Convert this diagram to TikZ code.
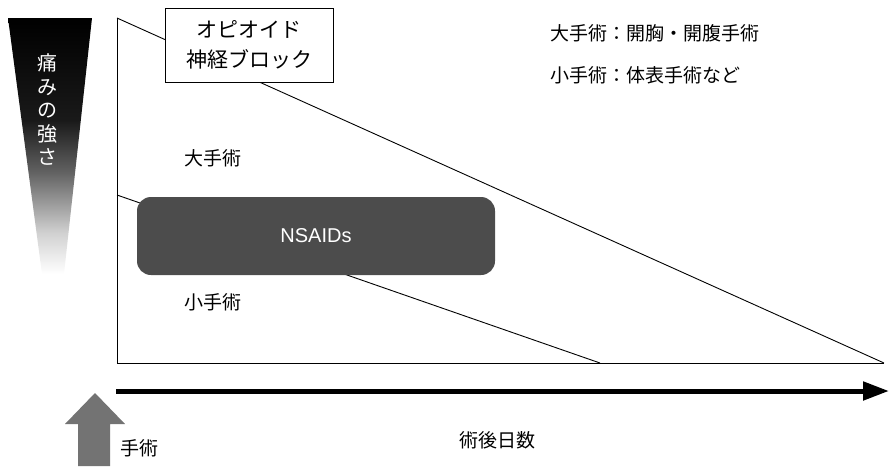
\documentclass[tikz,border=0pt]{standalone}
\usepackage{fontspec}
\setmainfont{Noto Sans CJK JP}
\newfontfamily\latinsans{Liberation Sans}
\usetikzlibrary{arrows.meta}
\pgfdeclareverticalshading{painshade}{100bp}{color(0bp)=(white); color(25bp)=(white); color(33bp)=(black!18); color(45bp)=(black!62); color(55bp)=(black!90); color(75bp)=(black); color(100bp)=(black)}
\begin{document}
\begin{tikzpicture}[x=1pt,y=-1pt,
  frame/.style={line width=0.9pt, black},
  jp/.style={font=\fontsize{19}{22}\selectfont, inner sep=0pt},
  boxjp/.style={font=\fontsize{21}{30}\selectfont, align=center}]
\useasboundingbox (0,0) rectangle (889,466);
% pain wedge
\shade[shading=painshade]
  (8,18) -- (92,18) -- (64,274) -- (42,274) -- cycle;
\node[font=\fontsize{20}{23.5}\selectfont, text=white, align=center, inner sep=0pt] (pain) at (47,110) {痛\\み\\の\\強\\さ};
% frame
\coordinate (tl) at (117,18);
\coordinate (ml) at (117,195);
\coordinate (bl) at (117,363);
\coordinate (br) at (884,363);
\coordinate (bm) at (600,363);
\draw[frame] (tl) -- (bl) -- (br);
\draw[frame] (tl) -- (br);
\draw[frame] (ml) -- (bm);
% opioid box
\node[draw, line width=1pt, fill=white, minimum width=168pt, minimum height=74pt, boxjp] (opioid) at (249,45) {オピオイド\\神経ブロック};
% NSAIDs
\node[fill=black!70, rounded corners=14pt, minimum width=358pt, minimum height=78pt, text=white, font=\latinsans\fontsize{20}{24}\selectfont] (nsaids) at (316,236) {NSAIDs};
% labels
\node[jp] (major) at (213,158) {大手術};
\node[jp] (minor) at (213,302) {小手術};
\node[jp, anchor=west] (legA) at (550,33) {大手術：開胸・開腹手術};
\node[jp, anchor=west] (legB) at (550,75) {小手術：体表手術など};
% time axis
\coordinate (ax0) at (116,391);
\coordinate (ax1) at (889,391);
\draw[line width=5pt, -{Triangle[length=26pt,width=18pt]}] (ax0) -- (ax1);
\node[jp] (days) at (497,440) {術後日数};
% surgery arrow
\fill[black!55] (95,393) -- (125,424) -- (110,424) -- (110,466) -- (78,466) -- (78,424) -- (65,424) -- cycle;
\node[jp, anchor=west] (surg) at (120,448) {手術};
\end{tikzpicture}
\end{document}
